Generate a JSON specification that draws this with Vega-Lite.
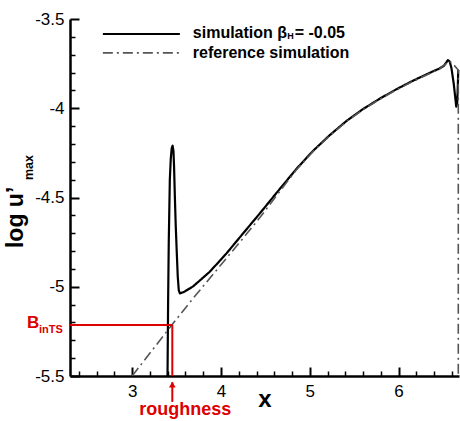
{
  "$schema": "https://vega.github.io/schema/vega-lite/v6.json",
  "width": 389,
  "height": 357,
  "autosize": {"type": "none"},
  "padding": {"left": 70, "top": 19, "right": 1, "bottom": 45},
  "config": {
    "view": {"stroke": null},
    "font": "Liberation Sans",
    "axis": {"grid": false, "tickColor": "black", "domainColor": "black", "labelColor": "black", "titleColor": "black", "labelFlush": false, "labelOverlap": false}
  },
  "resolve": {"axis": {"x": "independent", "y": "independent"}},
  "datasets": {
    "curves": [
      {"s": "sim", "i": 1, "x": 3.398, "y": -5.5},
      {"s": "sim", "i": 2, "x": 3.405, "y": -5.07},
      {"s": "sim", "i": 3, "x": 3.412, "y": -4.75},
      {"s": "sim", "i": 4, "x": 3.424, "y": -4.40},
      {"s": "sim", "i": 5, "x": 3.435, "y": -4.28},
      {"s": "sim", "i": 6, "x": 3.445, "y": -4.225},
      {"s": "sim", "i": 7, "x": 3.455, "y": -4.21},
      {"s": "sim", "i": 8, "x": 3.465, "y": -4.24},
      {"s": "sim", "i": 9, "x": 3.472, "y": -4.33},
      {"s": "sim", "i": 10, "x": 3.481, "y": -4.50},
      {"s": "sim", "i": 11, "x": 3.49, "y": -4.65},
      {"s": "sim", "i": 12, "x": 3.50, "y": -4.78},
      {"s": "sim", "i": 13, "x": 3.513, "y": -4.94},
      {"s": "sim", "i": 14, "x": 3.525, "y": -5.02},
      {"s": "sim", "i": 15, "x": 3.537, "y": -5.037},
      {"s": "sim", "i": 16, "x": 3.58, "y": -5.03},
      {"s": "sim", "i": 17, "x": 3.686, "y": -4.998},
      {"s": "sim", "i": 18, "x": 3.874, "y": -4.916},
      {"s": "sim", "i": 19, "x": 4.062, "y": -4.813},
      {"s": "sim", "i": 20, "x": 4.249, "y": -4.701},
      {"s": "sim", "i": 21, "x": 4.436, "y": -4.590},
      {"s": "sim", "i": 22, "x": 4.624, "y": -4.475},
      {"s": "sim", "i": 23, "x": 4.849, "y": -4.340},
      {"s": "sim", "i": 24, "x": 5.036, "y": -4.239},
      {"s": "sim", "i": 25, "x": 5.224, "y": -4.151},
      {"s": "sim", "i": 26, "x": 5.411, "y": -4.072},
      {"s": "sim", "i": 27, "x": 5.598, "y": -4.005},
      {"s": "sim", "i": 28, "x": 5.786, "y": -3.947},
      {"s": "sim", "i": 29, "x": 5.974, "y": -3.894},
      {"s": "sim", "i": 30, "x": 6.161, "y": -3.846},
      {"s": "sim", "i": 31, "x": 6.349, "y": -3.802},
      {"s": "sim", "i": 32, "x": 6.461, "y": -3.777},
      {"s": "sim", "i": 33, "x": 6.51, "y": -3.762},
      {"s": "sim", "i": 34, "x": 6.535, "y": -3.745},
      {"s": "sim", "i": 35, "x": 6.555, "y": -3.730},
      {"s": "sim", "i": 36, "x": 6.575, "y": -3.738},
      {"s": "sim", "i": 37, "x": 6.595, "y": -3.775},
      {"s": "sim", "i": 38, "x": 6.62, "y": -3.86},
      {"s": "sim", "i": 39, "x": 6.64, "y": -3.95},
      {"s": "sim", "i": 40, "x": 6.649, "y": -3.991},
      {"s": "sim", "i": 41, "x": 6.66, "y": -3.97},
      {"s": "sim", "i": 42, "x": 6.667, "y": -3.87},
      {"s": "sim", "i": 43, "x": 6.672, "y": -3.786},
      {"s": "ref", "i": 1, "x": 3.0, "y": -5.5},
      {"s": "ref", "i": 2, "x": 3.45, "y": -5.212},
      {"s": "ref", "i": 3, "x": 3.686, "y": -5.065},
      {"s": "ref", "i": 4, "x": 4.062, "y": -4.84},
      {"s": "ref", "i": 5, "x": 4.249, "y": -4.728},
      {"s": "ref", "i": 6, "x": 4.436, "y": -4.614},
      {"s": "ref", "i": 7, "x": 4.624, "y": -4.49},
      {"s": "ref", "i": 8, "x": 4.849, "y": -4.345},
      {"s": "ref", "i": 9, "x": 5.036, "y": -4.242},
      {"s": "ref", "i": 10, "x": 5.224, "y": -4.154},
      {"s": "ref", "i": 11, "x": 5.411, "y": -4.075},
      {"s": "ref", "i": 12, "x": 5.598, "y": -4.008},
      {"s": "ref", "i": 13, "x": 5.786, "y": -3.950},
      {"s": "ref", "i": 14, "x": 5.974, "y": -3.897},
      {"s": "ref", "i": 15, "x": 6.161, "y": -3.849},
      {"s": "ref", "i": 16, "x": 6.349, "y": -3.805},
      {"s": "ref", "i": 17, "x": 6.461, "y": -3.780},
      {"s": "ref", "i": 18, "x": 6.535, "y": -3.75},
      {"s": "ref", "i": 19, "x": 6.555, "y": -3.735},
      {"s": "ref", "i": 20, "x": 6.6, "y": -3.745},
      {"s": "ref", "i": 21, "x": 6.672, "y": -3.786},
      {"s": "ref", "i": 22, "x": 6.672, "y": -5.5}
    ],
    "legendLines": [
      {"s": "sim", "x": 2.67, "x2": 3.537, "y": -3.584},
      {"s": "ref", "x": 2.67, "x2": 3.537, "y": -3.69}
    ],
    "redRules": [
      {"x": 2.3, "x2": 3.452, "y": -5.214, "y2": -5.214},
      {"x": 3.452, "x2": 3.452, "y": -5.214, "y2": -5.5},
      {"x": 3.452, "x2": 3.452, "y": -5.535, "y2": -5.645}
    ]
  },
  "layer": [
    {
      "data": {"name": "curves"},
      "mark": {"type": "line", "strokeCap": "butt", "strokeJoin": "round"},
      "encoding": {
        "x": {
          "field": "x", "type": "quantitative",
          "scale": {"domain": [2.3, 6.68], "nice": false, "zero": false},
          "axis": {
            "orient": "bottom",
            "values": [3, 4, 5, 6],
            "labelExpr": "'' + datum.value",
            "tickSize": -9,
            "tickWidth": 2,
            "domainWidth": 2.5,
            "labelFontSize": 17,
            "labelPadding": 16,
            "title": "x",
            "titleFontSize": 24,
            "titleFontWeight": "bold",
            "titleBaseline": "alphabetic",
            "titleY": 30
          }
        },
        "y": {
          "field": "y", "type": "quantitative",
          "scale": {"domain": [-5.5, -3.5], "nice": false, "zero": false},
          "axis": {
            "orient": "left",
            "values": [-3.5, -4, -4.5, -5, -5.5],
            "labelExpr": "'' + datum.value",
            "tickSize": -9,
            "tickWidth": 2,
            "domainWidth": 2.5,
            "labelFontSize": 17,
            "labelPadding": 15,
            "title": null
          }
        },
        "order": {"field": "i", "type": "quantitative"},
        "detail": {"field": "s"},
        "color": {"field": "s", "type": "nominal", "scale": {"domain": ["sim", "ref"], "range": ["#000000", "#555555"]}, "legend": null},
        "strokeDash": {"field": "s", "type": "nominal", "scale": {"domain": ["sim", "ref"], "range": [[1, 0], [10, 4, 2, 4]]}, "legend": null},
        "strokeWidth": {"field": "s", "type": "nominal", "scale": {"domain": ["sim", "ref"], "range": [2.2, 1.6]}, "legend": null}
      }
    },
    {
      "data": {"name": "legendLines"},
      "mark": {"type": "rule"},
      "encoding": {
        "x": {
          "field": "x", "type": "quantitative",
          "axis": {
            "orient": "bottom",
            "values": [2.4, 2.6, 2.8, 3.2, 3.4, 3.6, 3.8, 4.2, 4.4, 4.6, 4.8, 5.2, 5.4, 5.6, 5.8, 6.2, 6.4, 6.6],
            "labels": false,
            "domain": false,
            "tickSize": -5,
            "tickWidth": 1.5,
            "title": null
          }
        },
        "x2": {"field": "x2"},
        "y": {
          "field": "y", "type": "quantitative",
          "axis": {
            "orient": "left",
            "values": [-3.6, -3.7, -3.8, -3.9, -4.1, -4.2, -4.3, -4.4, -4.6, -4.7, -4.8, -4.9, -5.1, -5.2, -5.3, -5.4],
            "labels": false,
            "domain": false,
            "tickSize": -5,
            "tickWidth": 1.5,
            "title": null
          }
        },
        "color": {"field": "s", "type": "nominal", "legend": null},
        "strokeDash": {"field": "s", "type": "nominal", "legend": null},
        "strokeWidth": {"field": "s", "type": "nominal", "legend": null}
      }
    },
    {
      "data": {"name": "redRules"},
      "mark": {"type": "rule", "color": "#dd0000", "strokeWidth": 2},
      "encoding": {
        "x": {"field": "x", "type": "quantitative", "axis": null},
        "x2": {"field": "x2"},
        "y": {"field": "y", "type": "quantitative", "axis": null},
        "y2": {"field": "y2"}
      }
    },
    {
      "data": {"values": [{"x": 3.452, "y": -5.548}]},
      "mark": {"type": "point", "shape": "triangle-up", "filled": true, "color": "#dd0000", "opacity": 1, "size": 45},
      "encoding": {
        "x": {"field": "x", "type": "quantitative", "axis": null},
        "y": {"field": "y", "type": "quantitative", "axis": null}
      }
    },
    {
      "data": {"values": [
        {"t": "simulation β", "x": 3.683, "y": -3.608},
        {"t": "= -0.05", "x": 4.83, "y": -3.608},
        {"t": "reference simulation", "x": 3.683, "y": -3.72}
      ]},
      "mark": {"type": "text", "align": "left", "baseline": "alphabetic", "fontSize": 16, "fontWeight": "bold", "color": "black"},
      "encoding": {
        "x": {"field": "x", "type": "quantitative", "axis": null},
        "y": {"field": "y", "type": "quantitative", "axis": null},
        "text": {"field": "t"}
      }
    },
    {
      "data": {"values": [{"t": "H", "x": 4.745, "y": -3.612}]},
      "mark": {"type": "text", "align": "left", "baseline": "alphabetic", "fontSize": 9, "fontWeight": "bold", "color": "black"},
      "encoding": {
        "x": {"field": "x", "type": "quantitative", "axis": null},
        "y": {"field": "y", "type": "quantitative", "axis": null},
        "text": {"field": "t"}
      }
    },
    {
      "data": {"values": [{"t": "B", "x": 1.8155, "y": -5.231}]},
      "mark": {"type": "text", "align": "left", "baseline": "alphabetic", "fontSize": 17, "fontWeight": "bold", "color": "#dd0000"},
      "encoding": {
        "x": {"field": "x", "type": "quantitative", "axis": null},
        "y": {"field": "y", "type": "quantitative", "axis": null},
        "text": {"field": "t"}
      }
    },
    {
      "data": {"values": [{"t": "inTS", "x": 1.9505, "y": -5.259}]},
      "mark": {"type": "text", "align": "left", "baseline": "alphabetic", "fontSize": 11, "fontWeight": "bold", "color": "#dd0000"},
      "encoding": {
        "x": {"field": "x", "type": "quantitative", "axis": null},
        "y": {"field": "y", "type": "quantitative", "axis": null},
        "text": {"field": "t"}
      }
    },
    {
      "data": {"values": [{"t": "roughness", "x": 3.598, "y": -5.72}]},
      "mark": {"type": "text", "align": "center", "baseline": "alphabetic", "fontSize": 18, "fontWeight": "bold", "color": "#dd0000"},
      "encoding": {
        "x": {"field": "x", "type": "quantitative", "axis": null},
        "y": {"field": "y", "type": "quantitative", "axis": null},
        "text": {"field": "t"}
      }
    },
    {
      "data": {"values": [{"t": "log u’", "x": 1.7705, "y": -4.783}]},
      "mark": {"type": "text", "align": "left", "baseline": "alphabetic", "angle": 270, "fontSize": 23, "fontWeight": "bold", "color": "black"},
      "encoding": {
        "x": {"field": "x", "type": "quantitative", "axis": null},
        "y": {"field": "y", "type": "quantitative", "axis": null},
        "text": {"field": "t"}
      }
    },
    {
      "data": {"values": [{"t": "max", "x": 1.883, "y": -4.402}]},
      "mark": {"type": "text", "align": "left", "baseline": "alphabetic", "angle": 270, "fontSize": 12.5, "fontWeight": "bold", "color": "black"},
      "encoding": {
        "x": {"field": "x", "type": "quantitative", "axis": null},
        "y": {"field": "y", "type": "quantitative", "axis": null},
        "text": {"field": "t"}
      }
    }
  ]
}
